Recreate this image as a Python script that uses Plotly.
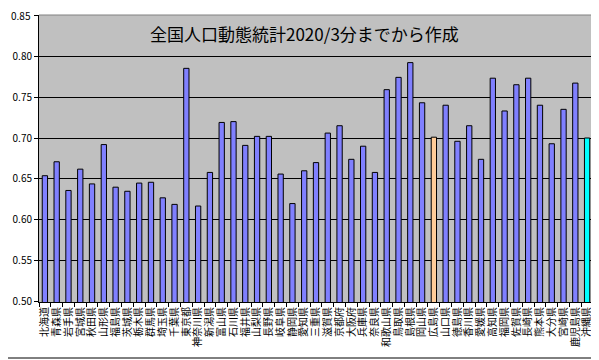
import plotly.graph_objects as go

prefectures = ["北海道", "青森県", "岩手県", "宮城県", "秋田県", "山形県", "福島県", "茨城県", "栃木県", "群馬県",
               "埼玉県", "千葉県", "東京都", "神奈川県", "新潟県", "富山県", "石川県", "福井県", "山梨県", "長野県",
               "岐阜県", "静岡県", "愛知県", "三重県", "滋賀県", "京都府", "大阪府", "兵庫県", "奈良県", "和歌山県",
               "鳥取県", "島根県", "岡山県", "広島県", "山口県", "徳島県", "香川県", "愛媛県", "高知県", "福岡県",
               "佐賀県", "長崎県", "熊本県", "大分県", "宮崎県", "鹿児島県", "沖縄県"]
values = [0.654, 0.671, 0.636, 0.662, 0.644, 0.692, 0.640, 0.635, 0.645, 0.646,
          0.627, 0.619, 0.785, 0.617, 0.658, 0.719, 0.720, 0.691, 0.702, 0.702,
          0.656, 0.620, 0.660, 0.670, 0.706, 0.715, 0.674, 0.690, 0.658, 0.759,
          0.774, 0.792, 0.743, 0.701, 0.740, 0.696, 0.715, 0.674, 0.773, 0.733,
          0.765, 0.773, 0.740, 0.693, 0.735, 0.767, 0.700]
highlight = {"広島県": "#FFCC99", "沖縄県": "#00FFFF"}
default_color = "#8080FF"
title_text = "全国人口動態統計2020/3分までから作成"
y_ticks = [0.50, 0.55, 0.60, 0.65, 0.70, 0.75, 0.80, 0.85]
y_max = y_ticks[-1]

colors = [highlight.get(p, default_color) for p in prefectures]

fig = go.Figure()
fig.add_trace(go.Bar(
    x=prefectures, y=values, width=0.45,
    marker=dict(color=colors, line=dict(color="black", width=1)),
))

font_jp = "Noto Sans CJK JP"
tick_text = [f"{v:.2f}" if v != y_max else "" for v in y_ticks]
# page body has an 8px default margin, so the figure is 8px smaller
fig.update_layout(
    width=591, height=352,
    margin=dict(l=31, r=6, t=7, b=58, autoexpand=False),
    paper_bgcolor="white", plot_bgcolor="#C0C0C0",
    showlegend=False,
    font=dict(family=font_jp, size=10, color="black"),
    xaxis=dict(
        type="category", tickangle=-90, tickson="boundaries",
        range=[-0.5, len(prefectures) - 0.5], dtick=1, automargin=False,
        ticks="outside", ticklen=4, tickcolor="black",
        showline=True, linecolor="black", linewidth=1,
        showgrid=False, tickfont=dict(family=font_jp, size=10, color="black"),
    ),
    yaxis=dict(
        range=[0.4999, 0.8501], tickvals=y_ticks, ticktext=tick_text,
        automargin=False,
        ticks="outside", ticklen=4, tickcolor="black",
        showline=True, linecolor="black", linewidth=1,
        showgrid=True, gridcolor="black", gridwidth=1, zeroline=False,
        tickfont=dict(family=font_jp, size=10, color="black"),
    ),
    shapes=[
        dict(type="line", xref="paper", yref="paper", x0=0, x1=1, y0=1, y1=1,
             line=dict(color="#808080", width=1), layer="above"),
        dict(type="line", xref="paper", yref="paper", x0=1, x1=1, y0=0, y1=1,
             line=dict(color="#808080", width=1), layer="above"),
        dict(type="line", xref="paper", yref="paper", x0=-31/554, x1=1+6/554,
             y0=-56/287, y1=-56/287, line=dict(color="black", width=1)),
    ],
    annotations=[
        dict(text=title_text, xref="paper", yref="paper", x=0.48, y=0.937,
             xanchor="center", yanchor="middle", showarrow=False,
             font=dict(family=font_jp, size=17, color="black")),
        dict(text=f"{y_max:.2f}", xref="paper", yref="y", x=0, y=y_max,
             xanchor="right", yanchor="middle", showarrow=False, xshift=-6,
             font=dict(family=font_jp, size=10, color="black")),
    ],
)

fig.write_html("out.html")
